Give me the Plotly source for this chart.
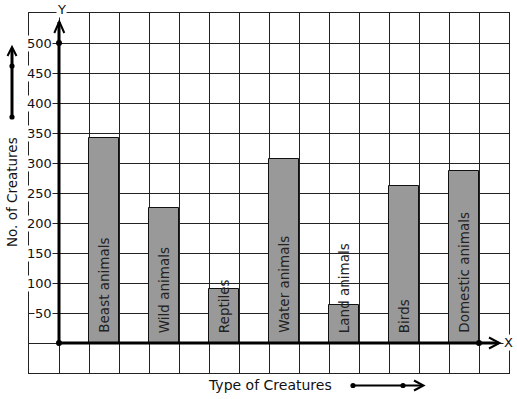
import plotly.graph_objects as go

# ---- data ----
categories = ["Beast animals", "Wild animals", "Reptiles", "Water animals",
              "Land animals", "Birds", "Domestic animals"]
counts = [341, 225, 90, 306, 63, 261, 287]
y_ticks = [50, 100, 150, 200, 250, 300, 350, 400, 450, 500]
y_tick_labels = ["50", "100", "150", "200", "250", "300", "350", "400", "450", "500"]

W, H = 517, 399
ML, MR, MT, MB = 29, 8, 13, 26
PW, PH = W - ML - MR, H - MT - MB


def px(x):
    return (x - ML) / PW


def py(y):
    return (H - MB - y) / PH


xpos = [1.5 + 2 * i for i in range(len(categories))]

fig = go.Figure()
fig.add_trace(go.Bar(
    x=xpos, y=counts, width=1,
    marker=dict(color="#999999", line=dict(color="#111111", width=1)),
    hoverinfo="skip", showlegend=False,
))
# axis dots
fig.add_trace(go.Scatter(
    x=[0, 0, 14], y=[0, 500, 0], mode="markers",
    marker=dict(color="black", size=6), cliponaxis=False,
    showlegend=False, hoverinfo="skip",
))

annotations = []
for xc, name in zip(xpos, categories):
    annotations.append(dict(
        x=xc, y=13, xref="x", yref="y", text=name, textangle=-90,
        showarrow=False, xanchor="center", yanchor="bottom",
        font=dict(family="DejaVu Sans", size=13.5, color="#222222"),
    ))
for v, lab in zip(y_ticks, y_tick_labels):
    annotations.append(dict(
        x=0, y=v, xref="x", yref="y", text=lab, showarrow=False,
        xanchor="right", yanchor="middle", xshift=-6,
        bgcolor="white", borderpad=0,
        font=dict(family="DejaVu Sans", size=13, color="#111111"),
    ))
annotations += [
    dict(x=px(61), y=py(9), xref="paper", yref="paper", text="Y", showarrow=False,
         xanchor="center", yanchor="middle", bgcolor="white", borderpad=0,
         font=dict(family="DejaVu Sans", size=13, color="#111111")),
    dict(x=px(508.5), y=py(342), xref="paper", yref="paper", text="X", showarrow=False,
         xanchor="center", yanchor="middle", bgcolor="white", borderpad=0,
         font=dict(family="DejaVu Sans", size=13, color="#111111")),
    dict(x=px(12), y=py(192), xref="paper", yref="paper", text="No. of Creatures",
         textangle=-90, showarrow=False, xanchor="center", yanchor="middle",
         font=dict(family="DejaVu Sans", size=13.5, color="#111111")),
    dict(x=px(269.5), y=py(385), xref="paper", yref="paper", text="Type of Creatures",
         showarrow=False, xanchor="center", yanchor="middle",
         font=dict(family="DejaVu Sans", size=14, color="#111111")),
]

shapes = []
blk = "#000000"
# y axis
shapes.append(dict(type="line", xref="x", yref="y", x0=0, y0=0, x1=0, y1=535,
                   line=dict(color=blk, width=3)))
shapes.append(dict(type="path", xref="paper", yref="paper",
                   path=f"M {px(54.3)} {py(33)} L {px(59.3)} {py(21.5)} L {px(64.3)} {py(33)}",
                   line=dict(color=blk, width=2)))
# x axis
shapes.append(dict(type="line", xref="x", yref="y", x0=0, y0=0, x1=14.65, y1=0,
                   line=dict(color=blk, width=3)))
shapes.append(dict(type="path", xref="paper", yref="paper",
                   path=f"M {px(489)} {py(337.5)} L {px(499.5)} {py(343)} L {px(489)} {py(348.5)}",
                   line=dict(color=blk, width=2)))
# left decorative arrow
shapes.append(dict(type="line", xref="paper", yref="paper", x0=px(12), y0=py(117),
                   x1=px(12), y1=py(49), line=dict(color=blk, width=3)))
shapes.append(dict(type="path", xref="paper", yref="paper",
                   path=f"M {px(7.5)} {py(56)} L {px(12)} {py(47)} L {px(16.5)} {py(56)}",
                   line=dict(color=blk, width=2)))
# bottom decorative arrow
shapes.append(dict(type="line", xref="paper", yref="paper", x0=px(353), y0=py(385.5),
                   x1=px(422), y1=py(385.5), line=dict(color=blk, width=2)))
shapes.append(dict(type="path", xref="paper", yref="paper",
                   path=f"M {px(414)} {py(380.5)} L {px(423.5)} {py(385.5)} L {px(414)} {py(390.5)}",
                   line=dict(color=blk, width=2)))
# dots on decorative arrows
for (cx, cy) in [(12, 66), (12, 117), (353, 385.5), (403, 385.5)]:
    shapes.append(dict(type="circle", xref="paper", yref="paper",
                       x0=px(cx - 2.6), x1=px(cx + 2.6), y0=py(cy - 2.6), y1=py(cy + 2.6),
                       fillcolor=blk, line=dict(color=blk, width=0)))

grid = "#222222"
fig.update_layout(
    width=W, height=H,
    margin=dict(l=ML, r=MR, t=MT, b=MB, pad=0),
    paper_bgcolor="white", plot_bgcolor="white",
    xaxis=dict(range=[-1, 15], tick0=0, dtick=1, showgrid=True, gridcolor=grid,
               gridwidth=1, zeroline=False, showticklabels=False, ticks="",
               showline=True, mirror=True, linecolor=grid, linewidth=1, fixedrange=True),
    yaxis=dict(range=[-50, 550], tick0=0, dtick=50, showgrid=True, gridcolor=grid,
               gridwidth=1, zeroline=False, showticklabels=False, ticks="",
               showline=True, mirror=True, linecolor=grid, linewidth=1, fixedrange=True),
    annotations=annotations,
    shapes=shapes,
    bargap=0,
)

fig.write_html("out.html", config={"displayModeBar": False},
               post_script="document.body.style.margin='0';document.body.style.padding='0';")
